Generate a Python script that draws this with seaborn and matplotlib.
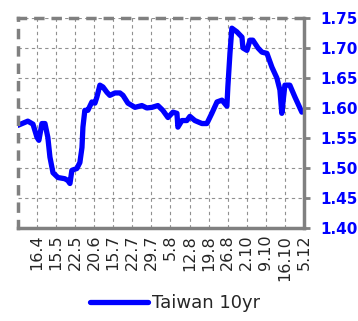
import pandas as pd
import seaborn as sns
import matplotlib.pyplot as plt

# week positions (category index) and yield values
week_pos = [0.00, 0.52, 0.79, 1.00, 1.10, 1.26, 1.42, 1.57, 1.68, 1.84, 2.10, 2.46, 2.62, 2.73,
            2.83, 3.09, 3.25, 3.36, 3.41, 3.51, 3.67, 3.88, 4.04, 4.14, 4.30, 4.46, 4.67, 4.82,
            5.09, 5.35, 5.51, 5.77, 6.14, 6.50, 6.76, 7.03, 7.34, 7.60, 7.87, 8.13, 8.34, 8.39,
            8.60, 8.86, 9.02, 9.28, 9.65, 9.91, 10.17, 10.44, 10.70, 10.96, 11.01, 11.12, 11.22,
            11.48, 11.75, 11.80, 12.01, 12.17, 12.32, 12.59, 12.80, 13.06, 13.32, 13.58, 13.74,
            13.84, 14.00, 14.26, 14.53, 14.89]
yield_10yr = [1.571, 1.578, 1.573, 1.551, 1.546, 1.574, 1.574, 1.551, 1.518, 1.492, 1.484, 1.482,
              1.479, 1.474, 1.496, 1.499, 1.509, 1.534, 1.568, 1.596, 1.596, 1.610, 1.608, 1.618,
              1.638, 1.635, 1.626, 1.621, 1.625, 1.625, 1.621, 1.608, 1.601, 1.604, 1.600, 1.601,
              1.604, 1.596, 1.584, 1.593, 1.591, 1.568, 1.579, 1.579, 1.586, 1.579, 1.574, 1.574,
              1.591, 1.610, 1.613, 1.603, 1.635, 1.691, 1.733, 1.727, 1.718, 1.700, 1.696, 1.713,
              1.713, 1.700, 1.693, 1.691, 1.668, 1.650, 1.630, 1.591, 1.638, 1.638, 1.618, 1.593]
tick_labels = ["16.4", "15.5", "22.5", "20.6", "15.7", "22.7", "29.7", "5.8", "12.8", "19.8",
               "26.8", "2.10", "9.10", "16.10", "5.12"]
y_ticks = [1.40, 1.45, 1.50, 1.55, 1.60, 1.65, 1.70, 1.75]

df = pd.DataFrame({"pos": week_pos, "Taiwan 10yr": yield_10yr})

sns.set_style("white")
plt.rcParams['font.family'] = ['DejaVu Sans']

fig = plt.figure(figsize=(3.58, 3.21), dpi=100)
ax = fig.add_axes([0.050, 0.290, 0.799, 0.654])

sns.lineplot(data=df, x="pos", y="Taiwan 10yr", ax=ax, color="#0000ff", linewidth=3.8,
             label="Taiwan 10yr", sort=False, solid_joinstyle="round", solid_capstyle="round")

ax.set_xlim(0, 15)
ax.set_ylim(1.40, 1.75)
ax.set_xticks(range(1, 16))
ax.set_xticklabels(tick_labels, rotation=90, fontsize=11.5)
ax.set_yticks(y_ticks)
ax.set_yticklabels([f"{v:.2f}" for v in y_ticks], fontsize=11, fontweight="bold", color="#0000ff")
ax.yaxis.tick_right()
ax.tick_params(axis="y", direction="out", length=4, width=2, color="#808080", pad=8)
ax.tick_params(axis="x", direction="in", length=3, width=0.8, color="#808080", pad=5)
ax.set_xlabel("")
ax.set_ylabel("")

ax.grid(True, color="#909090", linestyle=(0, (3, 3)), linewidth=0.8)

for side in ["right", "bottom"]:
    ax.spines[side].set_color("#808080")
    ax.spines[side].set_linewidth(2.5)
for side in ["left", "top"]:
    ax.spines[side].set_color("#808080")
    ax.spines[side].set_linewidth(2.5)
    ax.spines[side].set_linestyle((0, (2, 3)))

ax.legend(loc="center", bbox_to_anchor=(0.55, -0.357), frameon=False, fontsize=13,
          handlelength=3.2, handletextpad=0.2, borderpad=0, borderaxespad=0)

fig.savefig("out.png", dpi=100)
